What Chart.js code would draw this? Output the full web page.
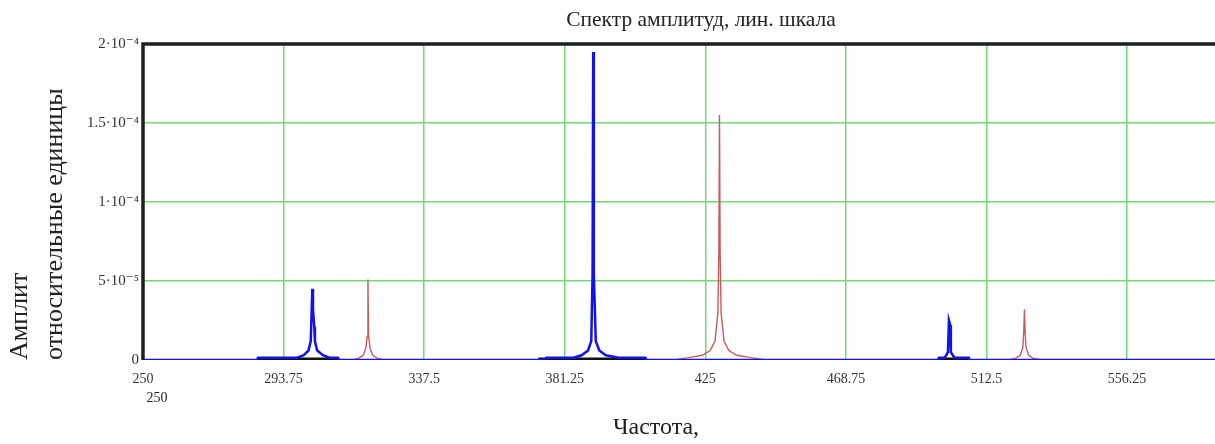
<!DOCTYPE html>
<html>
<head>
  <meta charset="UTF-8">
  <title>Спектр амплитуд</title>
  <style>
    html, body { margin: 0; padding: 0; background: #fff; overflow: hidden; }
    .chart-container { position: relative; width: 1215px; height: 444px; }
  </style>
</head>
<body>
  <div class="chart-container">
    <canvas id="specChart" width="1215" height="444"></canvas>
  </div>

  <script src="https://cdn.jsdelivr.net/npm/chart.js@4.4.1/dist/chart.umd.min.js"></script>
  <script>
    // Spectrum (frequency, relative amplitude)
    const blueFreq = [250, 285.5, 285.8, 298, 300, 301.5, 302.2, 302.5, 302.7, 302.9, 303.3, 303.5, 304.2, 306, 308, 310.7, 311,
                      375.2, 375.5, 384, 386.5, 388.5, 389.5, 389.9, 390.1, 390.3, 390.6, 390.9, 392, 394, 398, 406.3, 406.5,
                      497.5, 497.8, 499.5, 500.5, 500.8, 501.2, 501.4, 502.5, 507, 507.2, 584];
    const blueAmp  = [0, 0, 1.5e-6, 1.5e-6, 3e-6, 6e-6, 1.2e-5, 3.2e-5, 4.5e-5, 3.2e-5, 2.1e-5, 1.2e-5, 6e-6, 3e-6, 1.5e-6, 1.5e-6, 0,
                      0, 1.5e-6, 1.5e-6, 3e-6, 6e-6, 1.2e-5, 5.4e-5, 1.95e-4, 5.4e-5, 3.3e-5, 1.2e-5, 6e-6, 3e-6, 1.5e-6, 1.5e-6, 0,
                      0, 1.5e-6, 1.5e-6, 5e-6, 2.5e-5, 2.2e-5, 5e-6, 1.5e-6, 1.5e-6, 0, 0];

    const redFreq = [250, 315, 317, 318.5, 319.3, 319.8, 320, 320.2, 320.7, 321.5, 323, 325,
                     415, 420, 424, 426.5, 428, 428.9, 429.2, 429.4, 429.6, 429.9, 430.8, 432.3, 434.8, 439, 444,
                     519, 521.5, 523, 523.8, 524.1, 524.3, 524.5, 524.8, 525.6, 527, 530, 584];
    const redAmp  = [0, 0, 1e-6, 3e-6, 7e-6, 1.5e-5, 5.1e-5, 1.5e-5, 7e-6, 3e-6, 1e-6, 0,
                     0, 1.5e-6, 3e-6, 6e-6, 1.2e-5, 3e-5, 6.8e-5, 1.55e-4, 6.8e-5, 3e-5, 1.2e-5, 6e-6, 3e-6, 1.5e-6, 0,
                     0, 1e-6, 3e-6, 8e-6, 1.8e-5, 3.2e-5, 1.8e-5, 8e-6, 3e-6, 1e-6, 0, 0];

    // dark segments under the blue peaks (null = gap)
    const blackFreq = [285.5, 310.7, 311, 373, 406.3, 406.5, 497.2, 506.9];
    const blackAmp  = [6e-7, 6e-7, null, 6e-7, 6e-7, null, 6e-7, 6e-7];

    const xTicks = [250, 293.75, 337.5, 381.25, 425, 468.75, 512.5, 556.25];
    const yTicks = [0, 5e-5, 1e-4, 1.5e-4, 2e-4];
    const yTickLabels = ['0', '5·10⁻⁵', '1·10⁻⁴', '1.5·10⁻⁴', '2·10⁻⁴'];

    const titleText = 'Спектр амплитуд, лин. шкала';
    const xTitle = 'Частота,';
    const yTitleLines = ['Амплит', 'относительные единицы'];
    const xLimitLabel = '250';

    const toPoints = (xs, ys) => xs.map((x, i) => ({ x: x, y: ys[i] }));

    const serif = '"Liberation Serif", "DejaVu Serif", serif';

    // frame, title and axis captions
    const decor = {
      id: 'decor',
      afterDatasetsDraw(chart) {
        const { ctx, chartArea: a } = chart;
        ctx.save();
        ctx.strokeStyle = '#1e1e1e';
        ctx.lineWidth = 3.5;
        ctx.beginPath();
        ctx.moveTo(a.left, a.bottom);
        ctx.lineTo(a.left, a.top);
        ctx.lineTo(a.right, a.top);
        ctx.stroke();
        ctx.restore();
      },
      afterDraw(chart) {
        const { ctx, chartArea: a } = chart;
        ctx.save();
        ctx.fillStyle = '#222';
        ctx.textBaseline = 'middle';
        ctx.textAlign = 'center';
        ctx.font = '21.5px ' + serif;
        ctx.fillText(titleText, 701, 20);
        ctx.font = '24px ' + serif;
        ctx.fillText(xTitle, 656, 428);
        ctx.font = '14px ' + serif;
        ctx.fillText(xLimitLabel, a.left + 14, 398);
        // rotated y caption, both lines start at the bottom
        ctx.font = '26px ' + serif;
        ctx.textAlign = 'left';
        [20, 55].forEach((x, i) => {
          ctx.save();
          ctx.translate(x, a.bottom);
          ctx.rotate(-Math.PI / 2);
          ctx.fillText(yTitleLines[i], 0, 0);
          ctx.restore();
        });
        ctx.restore();
      }
    };

    const ctx = document.getElementById('specChart').getContext('2d');
    new Chart(ctx, {
      type: 'line',
      data: {
        datasets: [
          {
            label: 'blue',
            data: toPoints(blueFreq, blueAmp),
            borderColor: '#1010f0',
            borderWidth: 2.5,
            pointRadius: 0,
            tension: 0
          },
          {
            label: 'black',
            data: toPoints(blackFreq, blackAmp),
            borderColor: '#111',
            borderWidth: 3,
            pointRadius: 0,
            spanGaps: false,
            tension: 0
          },
          {
            label: 'red',
            data: toPoints(redFreq, redAmp),
            borderColor: '#c85a5a',
            borderWidth: 1.4,
            pointRadius: 0,
            tension: 0
          }
        ]
      },
      options: {
        responsive: false,
        animation: false,
        maintainAspectRatio: false,
        devicePixelRatio: 1,
        layout: { padding: { top: 44, left: 0, right: 0, bottom: 0 } },
        scales: {
          x: {
            type: 'linear',
            min: 250,
            max: 583.6,
            afterBuildTicks: s => { s.ticks = xTicks.map(v => ({ value: v })); },
            afterFit: s => { s.height = 84; },
            border: { display: false },
            grid: {
              color: c => (c.tick && c.tick.value === 250) ? 'rgba(0,0,0,0)' : '#72d872',
              lineWidth: 1.5,
              drawTicks: false
            },
            ticks: {
              padding: 11,
              maxRotation: 0,
              autoSkip: false,
              color: '#333',
              font: { family: serif, size: 14 },
              callback: v => String(v)
            }
          },
          y: {
            min: 0,
            max: 2e-4,
            afterBuildTicks: s => { s.ticks = yTicks.map(v => ({ value: v })); },
            afterFit: s => { s.width = 143; },
            border: { display: false },
            grid: {
              color: c => (c.tick && (c.tick.value === 0 || c.tick.value === 2e-4)) ? 'rgba(0,0,0,0)' : '#72d872',
              lineWidth: 1.5,
              drawTicks: false
            },
            ticks: {
              padding: 4,
              color: '#333',
              font: { family: serif, size: 15 },
              callback: (v, i) => yTickLabels[i]
            }
          }
        },
        plugins: {
          legend: { display: false },
          tooltip: { enabled: false }
        }
      },
      plugins: [decor]
    });
  </script>
</body>
</html>
